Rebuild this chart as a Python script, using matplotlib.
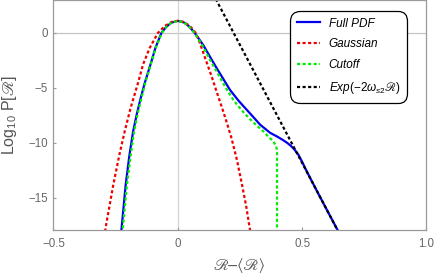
import matplotlib
matplotlib.use('Agg')
import matplotlib.pyplot as plt

plt.rcParams['font.family'] = ['Liberation Sans', 'STIXGeneral', 'DejaVu Sans']
plt.rcParams['mathtext.fontset'] = 'custom'
plt.rcParams['mathtext.rm'] = 'Liberation Sans'
plt.rcParams['mathtext.it'] = 'Liberation Sans:italic'
plt.rcParams['mathtext.bf'] = 'Liberation Sans:bold'
plt.rcParams['mathtext.fallback'] = 'stix'
plt.rcParams['axes.unicode_minus'] = True

# Full PDF
full_x = [-0.231, -0.226, -0.21, -0.195, -0.18, -0.165, -0.15, -0.133, -0.11, -0.09,
          -0.066, -0.045, -0.025, 0.0, 0.025, 0.045, 0.068, 0.085, 0.102, 0.13,
          0.156, 0.183, 0.21, 0.245, 0.277, 0.305, 0.331, 0.371, 0.40, 0.42,
          0.44, 0.455, 0.47, 0.485, 0.50, 0.515, 0.53, 0.56, 0.60, 0.648]
full_y = [-18.8, -17.76, -13.9, -11.2, -9.0, -7.4, -6.0, -4.55, -2.88, -1.36,
          0.0, 0.59, 0.94, 1.10, 0.95, 0.60, 0.0, -0.55, -1.1, -2.2,
          -3.2, -4.2, -5.2, -6.2, -7.0, -7.7, -8.36, -9.1, -9.45, -9.72,
          -10.02, -10.3, -10.65, -11.1, -11.75, -12.45, -13.12, -14.43, -16.15, -18.2]

# Gaussian
gauss_x = [-0.296, -0.29, -0.26, -0.235, -0.214, -0.19, -0.16, -0.14, -0.113, -0.08,
           -0.05, -0.025, 0.0, 0.025, 0.05, 0.072, 0.089, 0.11, 0.136, 0.156,
           0.176, 0.196, 0.216, 0.237, 0.257, 0.275, 0.29, 0.295]
gauss_y = [-18.6, -17.7, -13.9, -11.1, -9.0, -6.85, -4.55, -2.88, -1.36, 0.0,
           0.67, 1.0, 1.10, 1.0, 0.6, 0.0, -0.94, -2.3, -3.97, -5.35,
           -6.7, -8.1, -9.6, -11.5, -13.7, -15.8, -17.9, -18.6]

# Cutoff
cut_x = [-0.226, -0.221, -0.205, -0.19, -0.176, -0.162, -0.147, -0.131, -0.109, -0.089,
         -0.065, -0.045, -0.025, 0.0, 0.025, 0.045, 0.067, 0.084, 0.10, 0.128,
         0.156, 0.19, 0.223, 0.257, 0.29, 0.318, 0.344, 0.364, 0.384, 0.395,
         0.399, 0.399]
cut_y = [-18.8, -17.76, -13.9, -11.2, -9.0, -7.4, -6.0, -4.55, -2.88, -1.36,
         0.0, 0.59, 0.94, 1.10, 0.95, 0.60, 0.0, -0.6, -1.2, -2.4,
         -3.5, -4.9, -6.1, -7.05, -7.85, -8.45, -8.97, -9.45, -9.88, -10.3,
         -10.7, -18.5]

# Exp(-2 w_s2 R) asymptote
exp_x = [0.15, 0.65]
exp_y = [3.2, -18.3]

xticks = [-0.5, 0, 0.5, 1.0]
xtick_labels = ['\u22120.5', '0', '0.5', '1.0']
yticks = [-15, -10, -5, 0]
ytick_labels = ['\u221215', '\u221210', '\u22125', '0']

fig = plt.figure(figsize=(4.36, 2.76), dpi=100)
ax = fig.add_axes([0.1227, 0.1649, 0.8555, 0.8351])

ax.axhline(0, color='#c4c4c4', lw=0.9, zorder=0)
ax.axvline(0, color='#d4d4d4', lw=0.9, zorder=0)

ax.plot(full_x, full_y, color='#0000ee', lw=1.6, label='Full PDF')
ax.plot(gauss_x, gauss_y, color='#ee0000', lw=1.6, dashes=(1.4, 1.1), label='Gaussian')
ax.plot(cut_x, cut_y, color='#00ee00', lw=1.6, dashes=(1.4, 1.1), label='Cutoff')
ax.plot(exp_x, exp_y, color='black', lw=1.6, dashes=(1.4, 1.1),
        label='$Exp(-2\\omega_{s2}\u211b)$')

ax.set_xlim(-0.5, 1.0)
ax.set_ylim(-18, 3)
ax.set_xticks(xticks)
ax.set_xticklabels(xtick_labels)
ax.set_yticks(yticks)
ax.set_yticklabels(ytick_labels)

for s in ax.spines.values():
    s.set_color('#9a9a9a')
    s.set_linewidth(0.9)
ax.tick_params(direction='in', length=2.5, width=0.8, color='#9a9a9a',
               labelcolor='#666666', labelsize=8.3)
ax.tick_params(axis='x', pad=5.5)
ax.tick_params(axis='y', pad=4)

ax.set_xlabel('\u211b\u2013\u27e8\u211b\u27e9', fontsize=11.5,
              color='#555555', labelpad=6)
ax.set_ylabel('Log$_{10}$ P[$\u211b$]', fontsize=11.5,
              color='#555555', labelpad=7)

leg = ax.legend(loc='upper right', bbox_to_anchor=(0.948, 0.952),
                prop={'style': 'italic', 'size': 8.5}, frameon=True,
                fancybox=True, edgecolor='black', framealpha=1,
                handlelength=2.0, handletextpad=0.7, labelspacing=0.75,
                borderpad=0.55, borderaxespad=0)
leg.get_frame().set_linewidth(0.9)
leg.get_frame().set_boxstyle('round,pad=0,rounding_size=0.8')

fig.savefig('out.png', dpi=100)
